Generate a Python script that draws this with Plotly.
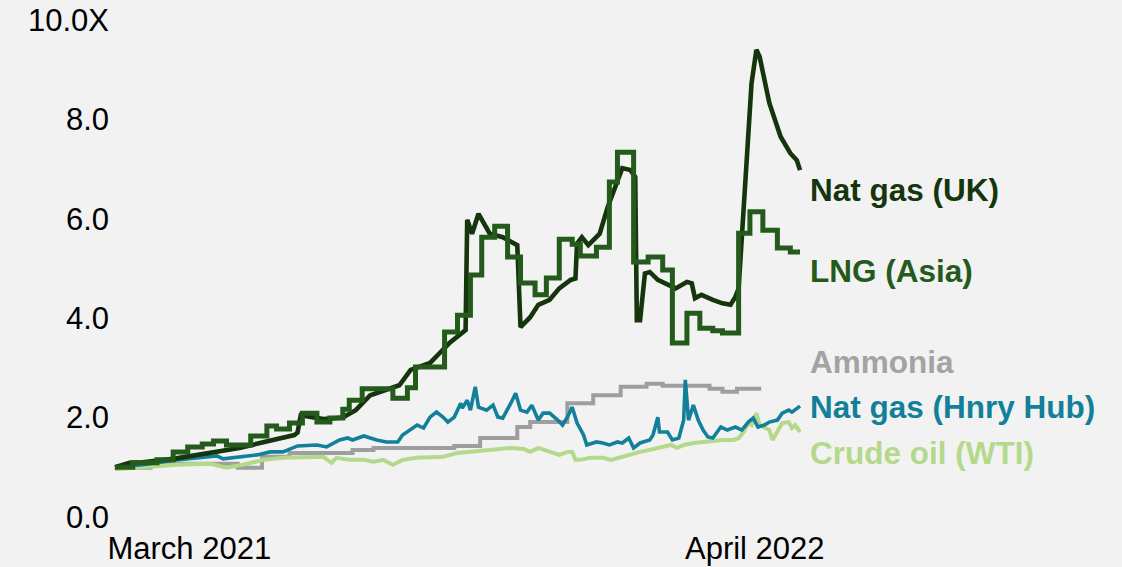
import pandas as pd
import plotly.graph_objects as go

START = pd.Timestamp("2021-03-01")

# ---- data (day offsets from START, value as multiple of starting price) ----
uk_days = [0,9,17,36,77,85,111,113,115,129,141,149,158,167,176,183,195,201,207,217,
           218,221,225,232,240,249,251,257,262,269,275,282,285,286,289,293,300,305,311,314,
           319,322,323,325,328,331,336,339,347,354,357,359,363,370,376,381,384,386,391,394,
           397,399,405,412,418,422,424]
uk_vals = [1.0,1.09,1.1,1.17,1.39,1.45,1.65,1.7,2.05,1.97,2.0,2.15,2.45,2.55,2.65,2.96,3.1,3.3,3.5,3.76,
           5.98,5.7,6.1,5.7,5.63,5.47,3.82,4.02,4.27,4.37,4.6,4.77,4.8,5.5,5.63,5.47,5.7,6.24,6.78,7.02,
           6.98,6.84,3.96,3.96,4.9,4.93,4.77,4.73,4.6,4.73,4.7,4.4,4.47,4.37,4.3,4.27,4.43,4.6,7.12,8.73,
           9.4,9.26,8.33,7.65,7.32,7.18,6.98]

lng_days = [0,11,26,36,45,54,61,69,84,94,100,108,116,125,133,141,145,153,172,181,
            186,204,212,220,227,235,243,251,260,267,275,283,288,298,306,311,321,330,339,345,
            354,362,370,376,386,393,401,410,418,424]
lng_vals = [1.0,1.09,1.15,1.31,1.41,1.47,1.53,1.45,1.63,1.83,1.77,1.89,2.09,1.91,1.99,2.17,2.35,2.58,2.39,2.6,
            3.02,3.72,4.06,4.87,5.63,5.85,5.23,4.71,4.47,4.81,5.59,5.49,5.25,5.43,6.74,7.34,5.13,5.23,4.97,3.5,
            4.1,3.8,3.75,3.7,5.71,6.14,5.77,5.41,5.33,5.33]

amm_days = [0,22,76,91,108,147,160,210,226,249,257,280,296,313,329,339,368,376,385,400]
amm_vals = [0.99,1.07,0.99,1.21,1.29,1.35,1.39,1.43,1.59,1.81,1.91,2.29,2.45,2.62,2.68,2.64,2.58,2.52,2.58,2.58]

hh_days = [0,17,38,51,63,67,79,88,96,104,113,125,131,139,144,147,154,162,168,175,
           178,183,187,191,195,199,203,206,210,214,215,218,220,223,225,230,234,237,240,245,
           248,251,255,258,262,265,269,274,277,280,283,286,290,292,298,302,306,311,314,318,
           321,325,331,333,336,337,342,345,349,352,353,355,358,361,364,367,370,375,379,384,
           388,392,395,398,402,405,410,413,417,419,423,424]
hh_vals = [1.0,1.05,1.15,1.19,1.23,1.17,1.21,1.25,1.31,1.31,1.43,1.45,1.41,1.55,1.59,1.55,1.63,1.55,1.51,1.51,
           1.65,1.75,1.85,1.79,2.01,2.11,2.01,1.91,2.01,2.29,2.19,2.35,2.15,2.62,2.21,2.15,2.25,2.01,1.99,2.29,
           2.49,2.15,2.11,2.25,1.95,2.09,2.09,1.95,1.85,2.01,2.21,1.89,1.65,1.45,1.51,1.49,1.45,1.51,1.49,1.59,
           1.39,1.49,1.55,1.65,2.01,1.71,1.71,1.55,1.59,1.95,2.76,1.95,2.25,1.95,1.75,1.61,1.59,1.81,1.75,1.81,
           1.75,1.91,1.99,1.81,1.85,1.91,1.95,2.09,2.15,2.11,2.21,2.23]

wti_days = [0,1,17,38,59,69,79,92,104,121,129,134,137,145,154,160,166,172,178,187,
            195,203,212,220,228,236,245,253,257,262,269,275,280,283,285,288,294,302,307,313,
            319,325,331,337,344,348,352,358,364,370,376,383,386,389,392,394,397,399,402,405,
            407,410,413,417,419,421,424]
wti_vals = [1.0,0.96,1.0,1.05,1.07,0.99,1.05,1.15,1.19,1.19,1.21,1.09,1.19,1.15,1.15,1.11,1.15,1.05,1.15,1.19,
            1.19,1.21,1.29,1.31,1.35,1.37,1.39,1.37,1.31,1.39,1.31,1.25,1.31,1.31,1.15,1.15,1.19,1.19,1.15,1.21,
            1.25,1.31,1.35,1.39,1.45,1.39,1.45,1.49,1.51,1.51,1.55,1.55,1.59,1.71,1.89,1.85,2.09,1.85,1.79,1.75,
            1.55,1.71,1.89,1.91,1.79,1.85,1.71]

series_names = ["Nat gas (UK)", "LNG (Asia)", "Ammonia", "Nat gas (Hnry Hub)", "Crude oil (WTI)"]
label_values = [6.58, 4.95, 3.12, 2.21, 1.29]

y_tickvals = [0, 2, 4, 6, 8, 10]
y_ticktext = ["0.0", "2.0", "4.0", "6.0", "8.0", "10.0X"]
x_tickdays = [46, 396]
x_ticktext = ["March 2021", "April 2022"]

# ---- styling ----
BG = "#f2f2f2"
C_UK = "#15350d"
C_LNG = "#245a1b"
C_AMM = "#9e9e9e"
C_HH = "#12809a"
C_WTI = "#b4d98a"
FONT = "Liberation Sans, Arial, sans-serif"


def to_dates(days):
    return START + pd.to_timedelta(days, unit="D")


fig = go.Figure()
fig.add_trace(go.Scatter(x=to_dates(amm_days), y=amm_vals, mode="lines", line_shape="hv",
                         line=dict(color=C_AMM, width=4), name=series_names[2]))
fig.add_trace(go.Scatter(x=to_dates(wti_days), y=wti_vals, mode="lines",
                         line=dict(color=C_WTI, width=4), name=series_names[4]))
fig.add_trace(go.Scatter(x=to_dates(hh_days), y=hh_vals, mode="lines",
                         line=dict(color=C_HH, width=3.6), name=series_names[3]))
fig.add_trace(go.Scatter(x=to_dates(uk_days), y=uk_vals, mode="lines",
                         line=dict(color=C_UK, width=4.6), name=series_names[0]))
fig.add_trace(go.Scatter(x=to_dates(lng_days), y=lng_vals, mode="lines", line_shape="hv",
                         line=dict(color=C_LNG, width=5), name=series_names[1]))

label_colors = [C_UK, C_LNG, "#a3a3a3", C_HH, C_WTI]
label_x = START + pd.Timedelta(days=429)
for name, yv, col in zip(series_names, label_values, label_colors):
    fig.add_annotation(x=label_x, y=yv, xref="x", yref="y", text=f"<b>{name}</b>",
                       showarrow=False, xanchor="left", yanchor="middle",
                       font=dict(family=FONT, size=31.5, color=col))

px_per_day = 1.6156
plot_left = 110
plot_right = 1110
x0 = START - pd.Timedelta(days=(115 - plot_left) / px_per_day)
x1 = x0 + pd.Timedelta(days=(plot_right - plot_left) / px_per_day)

fig.update_layout(
    width=1122, height=567,
    margin=dict(l=plot_left, r=1122 - plot_right, t=20, b=50),
    paper_bgcolor=BG, plot_bgcolor=BG,
    showlegend=False,
    font=dict(family=FONT, size=31, color="#000000"),
    xaxis=dict(range=[x0, x1], showgrid=False, zeroline=False, showline=False,
               automargin=False,
               tickvals=to_dates(x_tickdays), ticktext=x_ticktext,
               ticks="outside", ticklen=4, tickcolor="rgba(0,0,0,0)",
               tickfont=dict(family=FONT, size=31, color="#000000")),
    yaxis=dict(range=[0, 10], showgrid=False, zeroline=False, showline=False,
               automargin=False,
               tickvals=y_tickvals, ticktext=y_ticktext,
               tickfont=dict(family=FONT, size=31, color="#000000")),
)

fig.write_html(
    "out.html",
    config={"displayModeBar": False},
    post_script="document.body.style.margin='0';document.body.style.overflow='hidden';"
                "document.documentElement.style.overflow='hidden';",
)
